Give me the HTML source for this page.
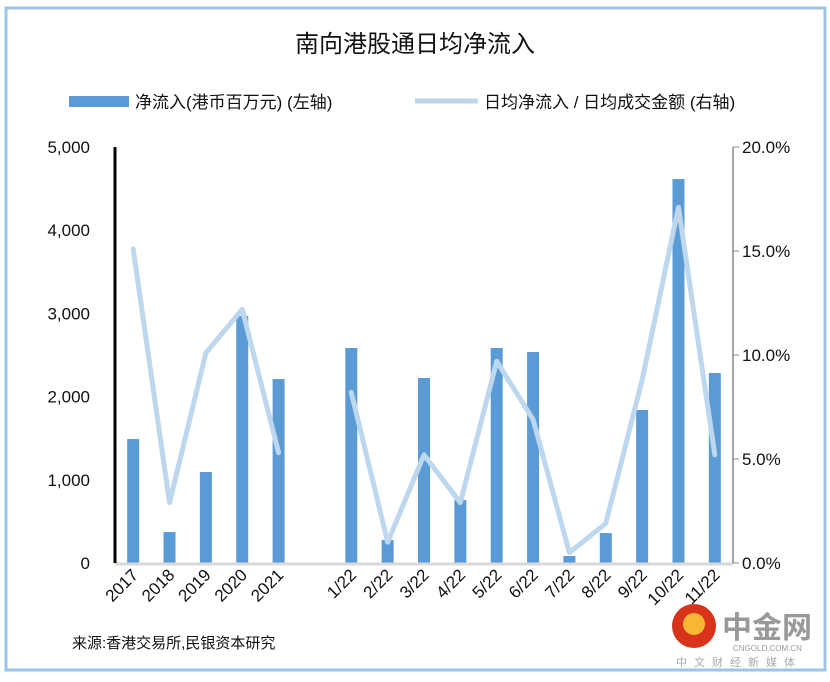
<!DOCTYPE html>
<html><head><meta charset="utf-8"><style>
body{margin:0;background:#fff;}
svg text{font-family:"Liberation Sans","Noto Sans CJK SC",sans-serif;}
</style></head><body>
<svg id="chart" width="830" height="677" xmlns="http://www.w3.org/2000/svg">
<rect x="6" y="8" width="819" height="662" fill="#fff" stroke="#9dc3e6" stroke-width="3"/>
<text x="415" y="52" font-size="24" text-anchor="middle" font-family="Noto Serif CJK SC, serif" fill="#111">南向港股通日均净流入</text>
<rect x="69" y="96" width="60" height="11" fill="#5b9bd5"/>
<text x="135" y="108" font-size="17" fill="#111">净流入(港币百万元) (左轴)</text>
<line x1="415" y1="101" x2="478" y2="101" stroke="#bdd7ee" stroke-width="5"/>
<text x="484" y="108" font-size="17" fill="#111">日均净流入 / 日均成交金额 (右轴)</text>
<g id="plot"></g>
<text x="72" y="648" font-size="15" fill="#111">来源:香港交易所,民银资本研究</text>
<g>
<circle cx="694" cy="626" r="22" fill="#d8341c"/>
<circle cx="694" cy="624" r="11" fill="#f7b733"/>
<text x="722" y="638" font-size="30" fill="#999" font-weight="bold">中金网</text>
<text x="733" y="651" font-size="8" fill="#999">CNGOLD.COM.CN</text>
<text x="676" y="666" font-size="11" fill="#aaa" letter-spacing="7">中文财经新媒体</text>
</g>
</svg>
<script>
const categories=["2017","2018","2019","2020","2021","","1/22","2/22","3/22","4/22","5/22","6/22","7/22","8/22","9/22","10/22","11/22"];
const inflowValues=[1490,373,1094,2969,2211,null,2584,276,2224,757,2584,2536,84,360,1839,4615,2284];
const ratioValues=[15.1,2.9,10.1,12.2,5.3,null,8.2,1.0,5.2,2.9,9.7,6.9,0.5,1.9,8.8,17.1,5.2];
const leftTicks=[0,1000,2000,3000,4000,5000];
const leftTickLabels=["0","1,000","2,000","3,000","4,000","5,000"];
const rightTicks=[0,5,10,15,20];
const rightTickLabels=["0.0%","5.0%","10.0%","15.0%","20.0%"];
const NS="http://www.w3.org/2000/svg";
const g=document.getElementById('plot');
const X0=115,X1=733,Y0=563,Y1=147;
const bw=(X1-X0)/categories.length;
const xc=i=>X0+bw*(i+0.5);
const yL=v=>Y0-(v/5000)*(Y0-Y1);
const yR=v=>Y0-(v/20)*(Y0-Y1);
function mk(t,a){const e=document.createElementNS(NS,t);for(const k in a)e.setAttribute(k,a[k]);g.appendChild(e);return e;}
leftTicks.forEach((v,i)=>{const t=mk('text',{x:90,y:yL(v)+6,'font-size':17,'text-anchor':'end',fill:'#111'});t.textContent=leftTickLabels[i];

});
rightTicks.forEach((v,i)=>{const l=mk('line',{x1:X1,x2:X1+6,y1:yR(v),y2:yR(v),stroke:'#888'});


const t=mk('text',{x:742,y:yR(v)+6,'font-size':17,fill:'#111'});t.textContent=rightTickLabels[i];

});
inflowValues.forEach((v,i)=>{if(v==null)return;const r=mk('rect',{x:xc(i)-6,y:yL(v),width:12,height:Y0-yL(v),fill:'#5b9bd5'});

});
const ax=mk('line',{x1:X0,x2:X1,y1:Y0+1,y2:Y0+1,stroke:'#d9d9d9','stroke-width':3});


const la=mk('line',{x1:X0,x2:X0,y1:Y1,y2:Y0,stroke:'#000','stroke-width':3});


const ra=mk('line',{x1:X1,x2:X1,y1:Y1,y2:Y0,stroke:'#888','stroke-width':1.5});


let seg=[];const segs=[];
ratioValues.forEach((v,i)=>{if(v==null){if(seg.length)segs.push(seg);seg=[];}else seg.push(xc(i)+','+yR(v));});
if(seg.length)segs.push(seg);
segs.forEach(s=>{const p=mk('polyline',{points:s.join(' '),fill:'none',stroke:'#bdd7ee','stroke-width':5,'stroke-linejoin':'round','stroke-linecap':'round'});

});
categories.forEach((c,i)=>{if(!c)return;const x=xc(i)+6,y=576;const t=mk('text',{x:x,y:y,'font-size':17,'text-anchor':'end',fill:'#111',transform:`rotate(-45 ${x} ${y})`});t.textContent=c;

});
</script>
</body></html>
